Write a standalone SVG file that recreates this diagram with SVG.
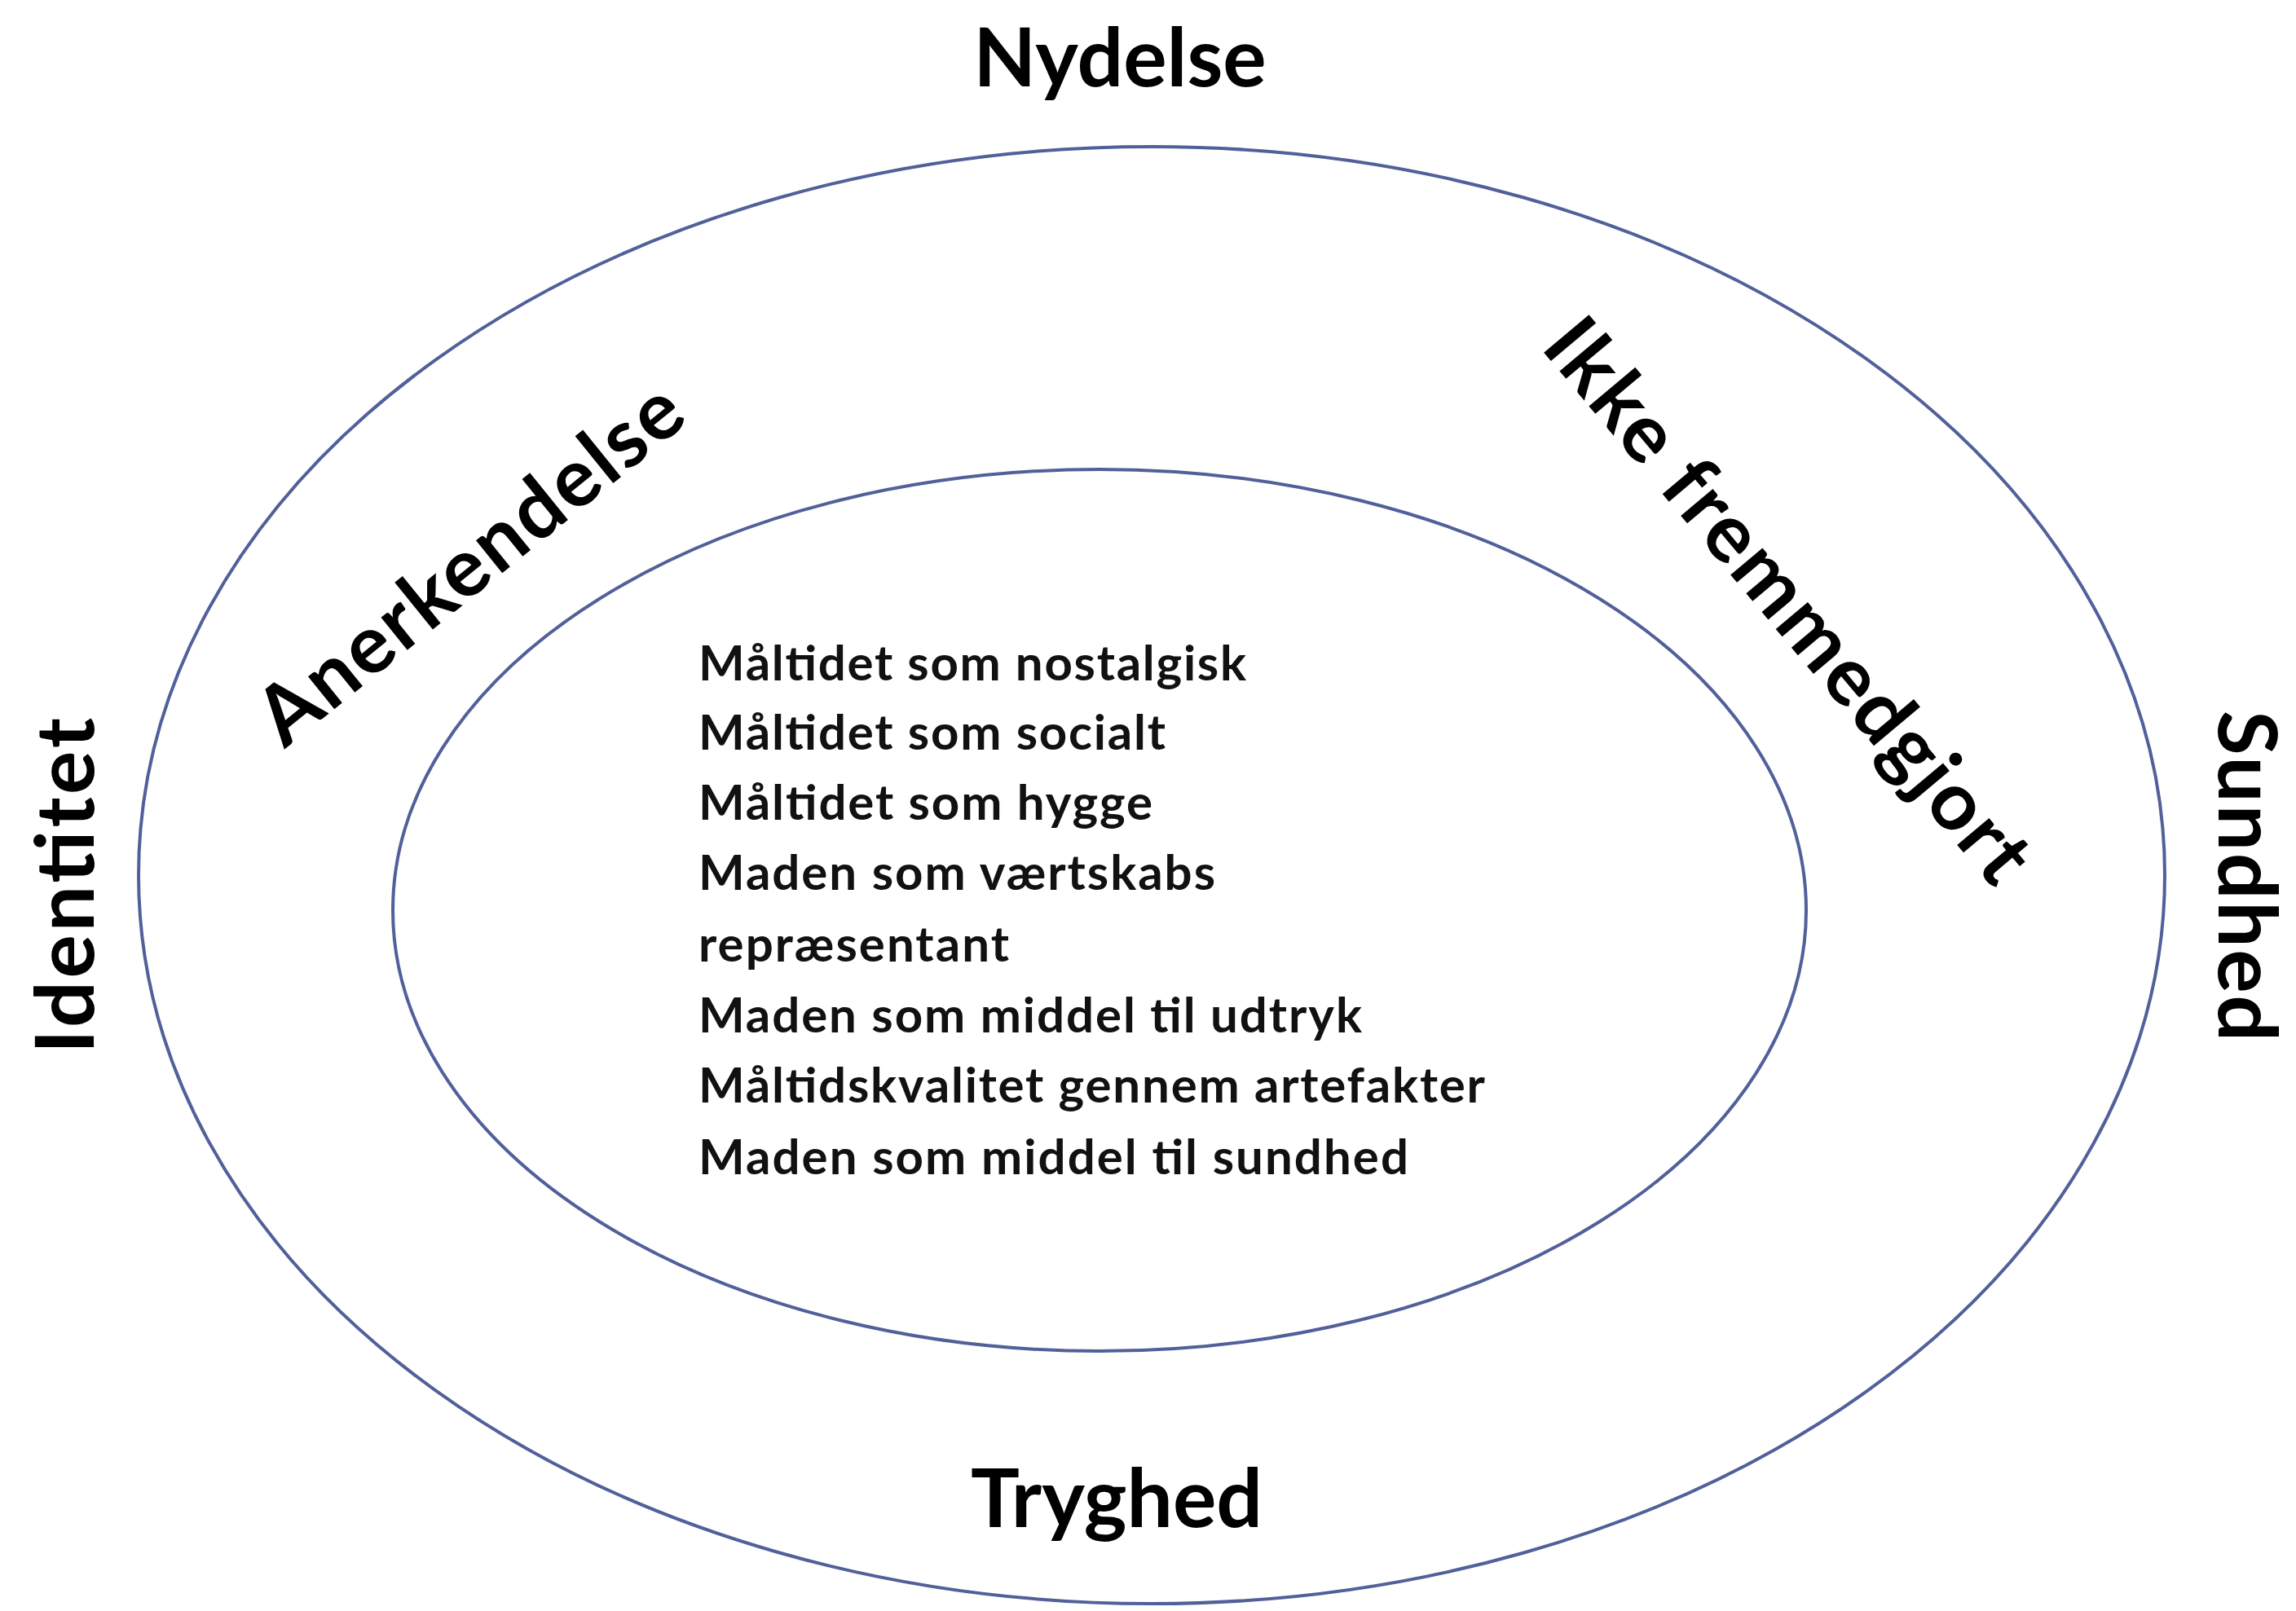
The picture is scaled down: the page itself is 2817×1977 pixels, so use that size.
<svg xmlns="http://www.w3.org/2000/svg" width="2817" height="1977" viewBox="0 0 2817 1977">
<style>
.ring{fill:none;stroke:#52609a;stroke-width:4}
.big{font-family:Lato,"Open Sans","Liberation Sans",sans-serif;font-weight:bold;font-size:100px;fill:#000}
.body{font-family:Lato,"Open Sans","Liberation Sans",sans-serif;font-weight:bold;font-size:60px;fill:#111}
</style>
<rect width="2817" height="1977" fill="#fff"/>
<g id="outer-ring"><ellipse class="ring" cx="1413" cy="1074" rx="1243" ry="894"/></g>
<g id="inner-ring"><ellipse class="ring" cx="1349" cy="1117" rx="867" ry="541"/></g>
<g id="connectors"></g>
<g id="label-nydelse"><text class="big" x="1374" y="106" text-anchor="middle">Nydelse</text></g>
<g id="label-tryghed"><text class="big" x="1370" y="1874" text-anchor="middle">Tryghed</text></g>
<g id="label-identitet"><text class="big" transform="translate(115,1087) rotate(-90)" text-anchor="middle" textLength="412">Identitet</text></g>
<g id="label-sundhed"><text class="big" transform="translate(2722,1075) rotate(90)" text-anchor="middle" textLength="406">Sundhed</text></g>
<g id="label-anerkendelse"><text class="big" transform="translate(598,718) rotate(-39)" text-anchor="middle" textLength="640">Anerkendelse</text></g>
<g id="label-ikke"><text class="big" transform="translate(2168,759) rotate(50)" text-anchor="middle" textLength="868">Ikke fremmedgjort</text></g>
<g id="center-list">
<text class="body" x="857" y="835" textLength="672">Måltidet som nostalgisk</text>
<text class="body" x="857" y="920" textLength="573">Måltidet som socialt</text>
<text class="body" x="857" y="1006" textLength="557">Måltidet som hygge</text>
<text class="body" x="857" y="1092" textLength="634">Maden som værtskabs</text>
<text class="body" x="857" y="1180" textLength="381">repræsentant</text>
<text class="body" x="857" y="1267" textLength="814">Maden som middel til udtryk</text>
<text class="body" x="857" y="1353" textLength="965">Måltidskvalitet gennem artefakter</text>
<text class="body" x="857" y="1441" textLength="871">Maden som middel til sundhed</text>
</g>
</svg>
